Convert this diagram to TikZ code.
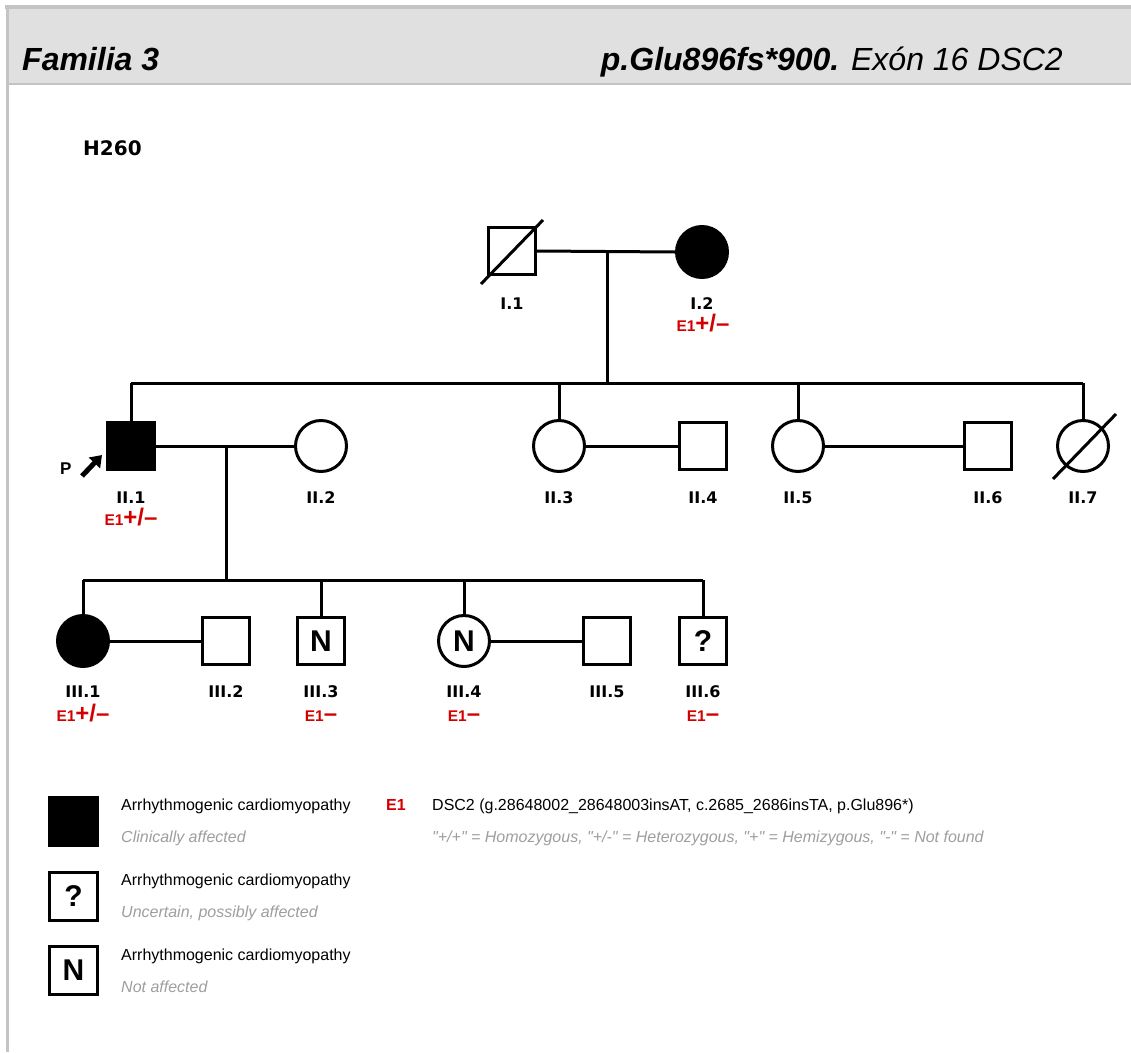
\documentclass[tikz,border=0pt]{standalone}
\usepackage{fontspec}
\setmainfont{Liberation Sans}
\newfontfamily\vfont{DejaVu Sans}
\usetikzlibrary{arrows.meta}
\definecolor{gred}{RGB}{212,0,0}
\definecolor{hdr}{RGB}{224,224,224}
\definecolor{brd}{RGB}{196,196,196}
\definecolor{subg}{RGB}{158,158,158}
\newcommand{\genE}{{\fontsize{15.5pt}{18pt}\selectfont\bfseries E1}}
\newcommand{\genHet}{{\fontsize{24pt}{24pt}\selectfont\bfseries +/–}}
\newcommand{\genNeg}{{\fontsize{24pt}{24pt}\selectfont\bfseries –}}
\newcommand{\qd}{\textquotedbl}
\begin{document}
\begin{tikzpicture}[x=1pt,y=-1pt,
  pedline/.style={line width=3pt},
  male/.style={draw, rectangle, line width=3pt, minimum size=47pt, inner sep=0pt, fill=white},
  female/.style={draw, circle, line width=3pt, minimum size=51pt, inner sep=0pt, fill=white},
  aff/.style={fill=black},
  symtxt/.style={font=\bfseries\fontsize{30pt}{30pt}\selectfont},
  idlbl/.style={font=\vfont\bfseries\fontsize{16pt}{19pt}\selectfont, inner sep=0pt, anchor=base},
  geno/.style={text=gred, inner sep=0pt, anchor=base},
  legtxt/.style={font=\fontsize{16pt}{19pt}\selectfont, inner sep=0pt, anchor=base west},
  legsub/.style={font=\itshape\fontsize{16pt}{19pt}\selectfont, text=subg, inner sep=0pt, anchor=base west}
]
\useasboundingbox (0,0) rectangle (1131,1052);
% frame and header
\fill[hdr] (8,9) rectangle (1131,84);
\draw[brd, line width=4pt] (5,7) -- (1131,7);
\draw[brd, line width=2pt] (8,84) -- (1131,84);
\draw[brd, line width=3pt] (7.5,5) -- (7.5,1052);
\node[font=\bfseries\itshape\fontsize{32pt}{38pt}\selectfont, inner sep=0pt, anchor=base west] (title) at (22,70) {Familia 3};
\node[font=\itshape\fontsize{32pt}{38pt}\selectfont, inner sep=0pt, anchor=base east] (mut) at (1063,70) {\textbf{p.Glu896fs*900.} Exón 16 DSC2};
\node[font=\vfont\bfseries\fontsize{20pt}{24pt}\selectfont, inner sep=0pt, anchor=base west] (code) at (83,155) {H260};

% generation I
\node[male] (i1) at (512,251) {};
\node[female, aff] (i2) at (702,252) {};
\coordinate (d1a) at (481,284);
\coordinate (d1b) at (543,220);
\draw[pedline] (d1a) -- (d1b);
\node[idlbl] (li1) at (512,309) {I.1};
\node[idlbl] (li2) at (702,309) {I.2};
\node[geno] (gi2) at (703,331) {\genE\genHet};

% generation II
\node[male, aff] (ii1) at (131,446) {};
\node[female] (ii2) at (321,446) {};
\node[female] (ii3) at (559,446) {};
\node[male] (ii4) at (703,446) {};
\node[female] (ii5) at (798,446) {};
\node[male] (ii6) at (988,446) {};
\node[female] (ii7) at (1083,446) {};
\coordinate (d7a) at (1053,479);
\coordinate (d7b) at (1116,414);
\draw[pedline] (d7a) -- (d7b);
\node[idlbl] (lii1) at (131,503) {II.1};
\node[idlbl] (lii2) at (321,503) {II.2};
\node[idlbl] (lii3) at (559,503) {II.3};
\node[idlbl] (lii4) at (703,503) {II.4};
\node[idlbl] (lii5) at (798,503) {II.5};
\node[idlbl] (lii6) at (988,503) {II.6};
\node[idlbl] (lii7) at (1083,503) {II.7};
\node[geno] (gii1) at (131,525) {\genE\genHet};
\node[font=\bfseries\fontsize{17pt}{20pt}\selectfont, inner sep=0pt, anchor=base west] (plbl) at (60,474) {P};
\coordinate (pa) at (82,476);
\coordinate (pb) at (102,455);
\draw[line width=5pt, -{Triangle[width=15pt,length=11pt]}] (pa) -- (pb);

% generation III
\node[female, aff] (iii1) at (83,641) {};
\node[male] (iii2) at (226,641) {};
\node[male, symtxt] (iii3) at (321,641) {N};
\node[female, symtxt] (iii4) at (464,641) {N};
\node[male] (iii5) at (607,641) {};
\node[male, symtxt] (iii6) at (703,641) {?};
\node[idlbl] (liii1) at (83,697) {III.1};
\node[idlbl] (liii2) at (226,697) {III.2};
\node[idlbl] (liii3) at (321,697) {III.3};
\node[idlbl] (liii4) at (464,697) {III.4};
\node[idlbl] (liii5) at (607,697) {III.5};
\node[idlbl] (liii6) at (703,697) {III.6};
\node[geno] (giii1) at (83,721) {\genE\genHet};
\node[geno] (giii3) at (321,721) {\genE\genNeg};
\node[geno] (giii4) at (464,721) {\genE\genNeg};
\node[geno] (giii6) at (703,721) {\genE\genNeg};

% connectors generation I
\draw[pedline] (i1.east) -- (i2.west);
\coordinate (m1) at (607,252);
\coordinate (s1) at (607,383);
\draw[pedline] (m1) -- (s1);
\draw[pedline] (ii1.north |- s1) -- (ii7.north |- s1);
\foreach \n in {ii1,ii3,ii5,ii7} {\draw[pedline] (\n.north |- s1) -- (\n.north);}
% marriages generation II
\draw[pedline] (ii1.east) -- (ii2.west);
\draw[pedline] (ii3.east) -- (ii4.west);
\draw[pedline] (ii5.east) -- (ii6.west);
\coordinate (m2) at (226,446);
\coordinate (s2) at (226,580);
\draw[pedline] (m2) -- (s2);
\draw[pedline] (iii1.north |- s2) -- (iii6.north |- s2);
\foreach \n in {iii1,iii3,iii4,iii6} {\draw[pedline] (\n.north |- s2) -- (\n.north);}
% marriages generation III
\draw[pedline] (iii1.east) -- (iii2.west);
\draw[pedline] (iii4.east) -- (iii5.west);

% legend
\node[male, aff, minimum size=48pt] (lg1) at (73.5,821) {};
\node[male, symtxt, minimum size=48pt] (lg2) at (73.5,896) {?};
\node[male, symtxt, minimum size=48pt] (lg3) at (73.5,970.5) {N};
\node[legtxt] (lt1) at (121,810) {Arrhythmogenic cardiomyopathy};
\node[legsub] (ls1) at (121,842) {Clinically affected};
\node[legtxt] (lt2) at (121,885) {Arrhythmogenic cardiomyopathy};
\node[legsub] (ls2) at (121,917) {Uncertain, possibly affected};
\node[legtxt] (lt3) at (121,960) {Arrhythmogenic cardiomyopathy};
\node[legsub] (ls3) at (121,992) {Not affected};
\node[legtxt, text=gred, font=\bfseries\fontsize{16pt}{19pt}\selectfont] (le1) at (386,810) {E1};
\node[legtxt] (ldsc) at (432,810) {DSC2 (g.28648002\_28648003insAT, c.2685\_2686insTA, p.Glu896*)};
\node[legsub] (lkey) at (432,842) {\qd+/+\qd{} = Homozygous, \qd+/-\qd{} = Heterozygous, \qd+\qd{} = Hemizygous, \qd-\qd{} = Not found};
\end{tikzpicture}
\end{document}
